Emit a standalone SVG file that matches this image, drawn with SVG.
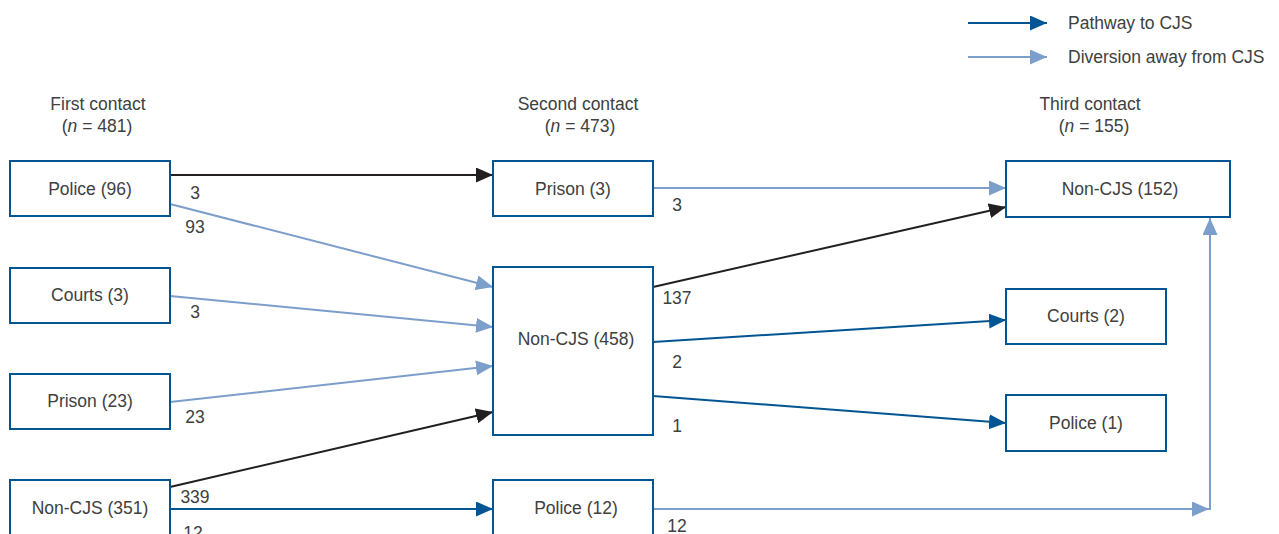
<svg xmlns="http://www.w3.org/2000/svg" width="1279" height="534" viewBox="0 0 1279 534">
<style>
text{font-family:"Liberation Sans",Arial,sans-serif;font-size:17.5px;fill:#404040}
.c{text-anchor:middle}
.box{fill:#fff;stroke:#005592;stroke-width:2}
.dk{stroke:#005592;stroke-width:2;fill:none}
.lt{stroke:#7c9ecb;stroke-width:2;fill:none}
.bk{stroke:#231f20;stroke-width:2;fill:none}
</style>
<defs>
<marker id="aDk" markerUnits="userSpaceOnUse" markerWidth="18" markerHeight="16" refX="17" refY="7.5" orient="auto"><path d="M0,0L17,7.5L0,15z" fill="#005592"/></marker>
<marker id="aLt" markerUnits="userSpaceOnUse" markerWidth="18" markerHeight="16" refX="17" refY="7.5" orient="auto"><path d="M0,0L17,7.5L0,15z" fill="#7c9ecb"/></marker>
<marker id="aBk" markerUnits="userSpaceOnUse" markerWidth="18" markerHeight="16" refX="17" refY="7.5" orient="auto"><path d="M0,0L17,7.5L0,15z" fill="#231f20"/></marker>
</defs>
<g id="legend">
<line class="dk" x1="968" y1="23" x2="1047" y2="23" marker-end="url(#aDk)"/>
<text x="1068" y="29">Pathway to CJS</text>
<line class="lt" x1="968" y1="57" x2="1047" y2="57" marker-end="url(#aLt)"/>
<text x="1068" y="63">Diversion away from CJS</text>
</g>
<g id="headers">
<text class="c" x="98" y="110">First contact</text>
<text class="c" x="97" y="132">(<tspan font-style="italic">n</tspan> = 481)</text>
<text class="c" x="578" y="110">Second contact</text>
<text class="c" x="580" y="132">(<tspan font-style="italic">n</tspan> = 473)</text>
<text class="c" x="1090" y="110">Third contact</text>
<text class="c" x="1094" y="132">(<tspan font-style="italic">n</tspan> = 155)</text>
</g>
<g id="connectors">
<line class="bk" x1="170" y1="175" x2="493" y2="175" marker-end="url(#aBk)"/>
<line class="lt" x1="170" y1="204" x2="493" y2="287" marker-end="url(#aLt)"/>
<line class="lt" x1="170" y1="296" x2="493" y2="327" marker-end="url(#aLt)"/>
<line class="lt" x1="170" y1="402" x2="493" y2="366" marker-end="url(#aLt)"/>
<line class="bk" x1="170" y1="487" x2="493" y2="412" marker-end="url(#aBk)"/>
<line class="dk" x1="170" y1="509" x2="493" y2="509" marker-end="url(#aDk)"/>
<line class="lt" x1="653" y1="188" x2="1006" y2="188" marker-end="url(#aLt)"/>
<line class="bk" x1="653" y1="287" x2="1006" y2="207" marker-end="url(#aBk)"/>
<line class="dk" x1="653" y1="342" x2="1006" y2="320" marker-end="url(#aDk)"/>
<line class="dk" x1="653" y1="396" x2="1006" y2="423" marker-end="url(#aDk)"/>
<line class="lt" x1="653" y1="509" x2="1209" y2="509" marker-end="url(#aLt)"/>
<line class="lt" x1="1210" y1="510" x2="1210" y2="218" marker-end="url(#aLt)"/>
<text class="c" x="195" y="199">3</text>
<text class="c" x="195" y="233">93</text>
<text class="c" x="195" y="318">3</text>
<text class="c" x="195" y="423">23</text>
<text class="c" x="195" y="503">339</text>
<text class="c" x="193" y="539">12</text>
<text class="c" x="677" y="211">3</text>
<text class="c" x="677" y="304">137</text>
<text class="c" x="677" y="368">2</text>
<text class="c" x="677" y="432">1</text>
<text class="c" x="677" y="532">12</text>
</g>
<g id="n1-police"><rect class="box" x="10" y="161" width="160" height="55"/><text class="c" x="90" y="195">Police (96)</text></g>
<g id="n1-courts"><rect class="box" x="10" y="268" width="160" height="55"/><text class="c" x="90" y="301">Courts (3)</text></g>
<g id="n1-prison"><rect class="box" x="10" y="374" width="160" height="55"/><text class="c" x="90" y="407">Prison (23)</text></g>
<g id="n1-noncjs"><rect class="box" x="10" y="480" width="160" height="55"/><text class="c" x="90" y="514">Non-CJS (351)</text></g>
<g id="n2-prison"><rect class="box" x="493" y="161" width="160" height="55"/><text class="c" x="573" y="195">Prison (3)</text></g>
<g id="n2-noncjs"><rect class="box" x="493" y="267" width="160" height="168"/><text class="c" x="576" y="345">Non-CJS (458)</text></g>
<g id="n2-police"><rect class="box" x="493" y="480" width="160" height="55"/><text class="c" x="576" y="514">Police (12)</text></g>
<g id="n3-noncjs"><rect class="box" x="1006" y="161" width="224" height="56"/><text class="c" x="1120" y="195">Non-CJS (152)</text></g>
<g id="n3-courts"><rect class="box" x="1006" y="289" width="160" height="55"/><text class="c" x="1086" y="322">Courts (2)</text></g>
<g id="n3-police"><rect class="box" x="1006" y="395" width="160" height="56"/><text class="c" x="1086" y="429">Police (1)</text></g>
</svg>
